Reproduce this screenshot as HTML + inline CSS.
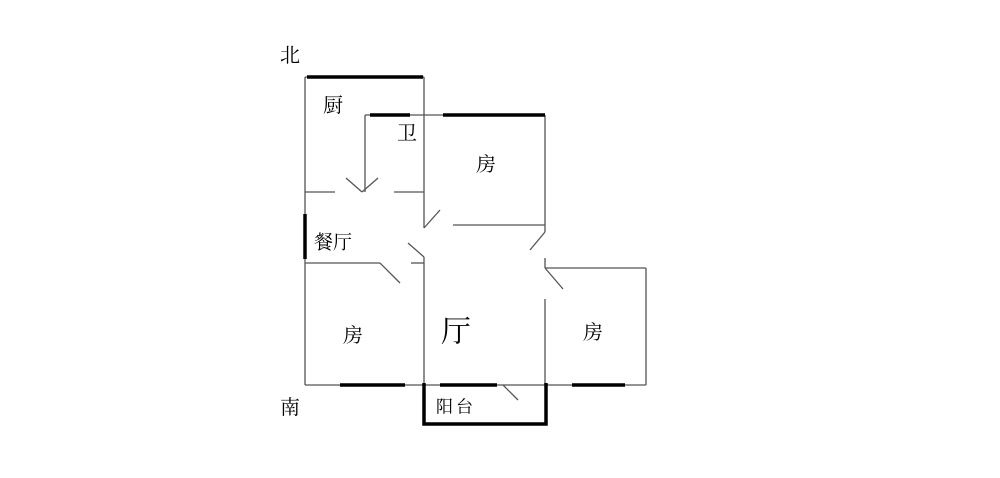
<!DOCTYPE html>
<html><head><meta charset="utf-8"><style>
html,body{margin:0;padding:0;background:#fff;}
svg text{font-family:"Liberation Serif","Noto Serif CJK SC",serif;fill:#000;}
</style></head><body>
<svg width="1000" height="473" viewBox="0 0 1000 473" xmlns="http://www.w3.org/2000/svg">
<g stroke="#555" stroke-width="1.3" fill="none">
<line x1="305" y1="77" x2="305" y2="385"/>
<line x1="305" y1="77" x2="424" y2="77"/>
<line x1="424" y1="77" x2="424" y2="228"/>
<line x1="365" y1="115" x2="545" y2="115"/>
<line x1="365" y1="115" x2="365" y2="192"/>
<line x1="305" y1="192" x2="335" y2="192"/>
<line x1="394" y1="192" x2="424" y2="192"/>
<line x1="346" y1="178" x2="362" y2="192"/>
<line x1="362" y1="192" x2="378" y2="178"/>
<line x1="545" y1="115" x2="545" y2="232"/>
<line x1="453" y1="225" x2="545" y2="225"/>
<line x1="424" y1="228" x2="440" y2="210"/>
<line x1="545" y1="232" x2="530" y2="250"/>
<line x1="305" y1="263" x2="380" y2="263"/>
<line x1="380" y1="263" x2="400" y2="283"/>
<line x1="411" y1="263" x2="424" y2="263"/>
<line x1="408" y1="243" x2="424" y2="257"/>
<line x1="424" y1="257" x2="424" y2="385"/>
<line x1="545" y1="258" x2="545" y2="268"/>
<line x1="545" y1="268" x2="646" y2="268"/>
<line x1="545" y1="268" x2="563" y2="289"/>
<line x1="545" y1="299" x2="545" y2="385"/>
<line x1="646" y1="268" x2="646" y2="385"/>
<line x1="305" y1="385" x2="424" y2="385"/>
<line x1="424" y1="385" x2="546" y2="385"/>
<line x1="546" y1="385" x2="646" y2="385"/>
<line x1="503" y1="385" x2="518" y2="400"/>
</g>
<g stroke="#000" stroke-width="3.5" fill="none">
<line x1="307" y1="77" x2="423" y2="77"/>
<line x1="370" y1="115" x2="410" y2="115"/>
<line x1="443" y1="115" x2="545" y2="115"/>
<line x1="305" y1="214" x2="305" y2="259"/>
<line x1="340" y1="385" x2="405" y2="385"/>
<line x1="440" y1="385" x2="497" y2="385"/>
<line x1="572" y1="385" x2="625" y2="385"/>
<polyline points="424,383 424,424 546,424 546,383"/>
</g>
<g font-size="20" text-anchor="middle" dominant-baseline="central">
<text x="290" y="56">北</text>
<text x="290" y="408">南</text>
<text x="333" y="106">厨</text>
<text x="407" y="134">卫</text>
<text x="486" y="165">房</text>
<text x="333" y="243" font-size="19">餐厅</text>
<text x="353" y="336">房</text>
<text x="456" y="332" font-size="30">厅</text>
<text x="593" y="333">房</text>
<text x="456" y="407" font-size="17" letter-spacing="3">阳台</text>
</g>
</svg>
</body></html>
